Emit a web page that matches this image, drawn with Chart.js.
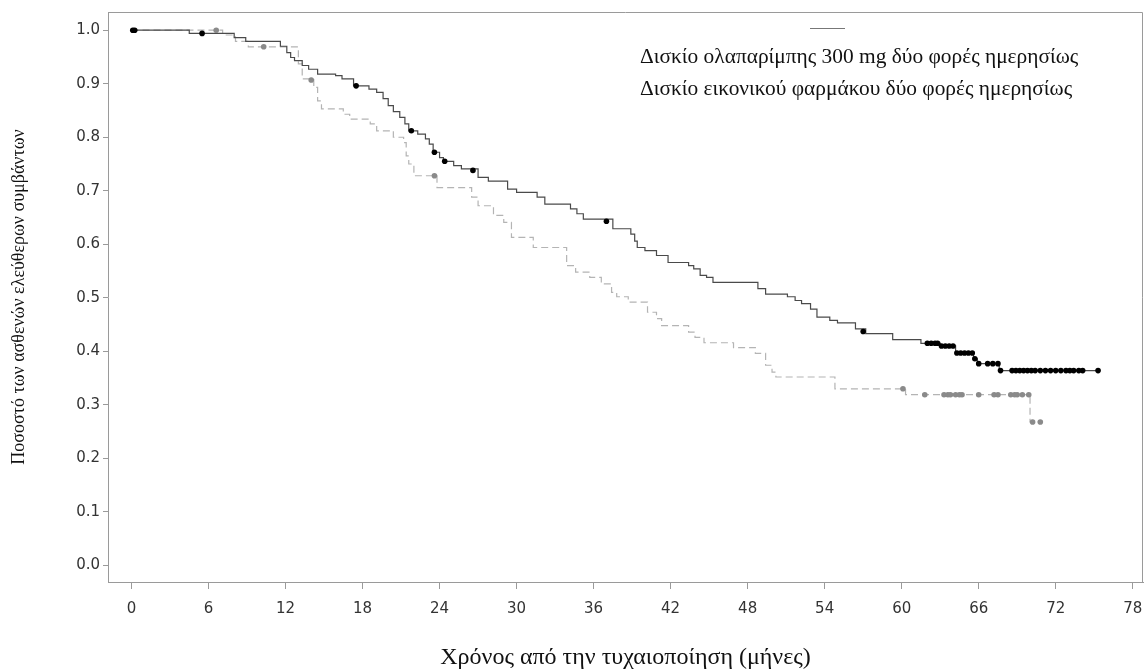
<!DOCTYPE html>
<html>
<head>
<meta charset="utf-8">
<script src="https://cdn.jsdelivr.net/npm/chart.js@4.4.1/dist/chart.umd.min.js"></script>
<style>
  html, body { margin: 0; padding: 0; background: #fff; }
</style>
</head>
<body>
<canvas id="km" width="1144" height="672"></canvas>
<script>
// olaparib arm: step times (months) and survival after each step
const olaTimes = [0, 4.5, 8.0, 8.9, 11.6, 12.1, 12.4, 12.7, 13.3, 13.8, 14.5, 15.9, 16.4, 17.3, 18.5, 19.1, 19.6, 20.0, 20.4, 20.9, 21.3, 21.6,
  22.3, 22.9, 23.2, 23.5, 24.0, 24.3, 25.1, 25.7, 27.0, 27.8, 29.3, 30.0, 31.6, 32.2, 34.2, 34.7, 35.2, 37.5, 38.9, 39.2, 39.4,
  40.0, 40.9, 41.8, 43.4, 43.8, 44.3, 44.8, 45.3, 48.8, 49.4, 51.1, 51.7, 52.2, 52.9, 53.4, 54.4, 55.0, 56.4, 57.2, 59.3, 61.5,
  63.0, 64.2, 65.6, 65.9, 67.6, 75.3];
const olaSurv = [1.0, 0.994, 0.986, 0.979, 0.970, 0.958, 0.949, 0.943, 0.934, 0.927, 0.918, 0.915, 0.909, 0.896, 0.890, 0.884, 0.872, 0.859, 0.848, 0.837, 0.825, 0.812,
  0.806, 0.797, 0.787, 0.772, 0.762, 0.755, 0.747, 0.741, 0.725, 0.718, 0.703, 0.697, 0.688, 0.675, 0.666, 0.657, 0.647, 0.629, 0.619, 0.606, 0.594,
  0.588, 0.579, 0.566, 0.560, 0.554, 0.542, 0.538, 0.529, 0.517, 0.507, 0.502, 0.495, 0.489, 0.479, 0.464, 0.458, 0.453, 0.442, 0.433, 0.422, 0.415,
  0.410, 0.397, 0.386, 0.377, 0.364, 0.364];

// olaparib censored observations
const olaCensT = [0.1, 0.25, 5.5, 17.5, 21.8, 23.6, 24.4, 26.6, 37.0, 57.0, 62.0, 62.3, 62.6, 62.8, 63.1, 63.4, 63.7, 64.0,
  64.3, 64.6, 64.9, 65.2, 65.5, 65.7, 66.0, 66.7, 67.1, 67.5, 67.7, 68.6, 68.9, 69.2, 69.5, 69.8, 70.1, 70.4,
  70.8, 71.2, 71.6, 72.0, 72.4, 72.8, 73.1, 73.4, 73.8, 74.1, 75.3];
const olaCensS = [1.0, 1.0, 0.994, 0.896, 0.812, 0.772, 0.755, 0.738, 0.643, 0.437, 0.415, 0.415, 0.415, 0.415, 0.410, 0.410, 0.410, 0.410,
  0.397, 0.397, 0.397, 0.397, 0.397, 0.386, 0.377, 0.377, 0.377, 0.377, 0.364, 0.364, 0.364, 0.364, 0.364, 0.364, 0.364, 0.364,
  0.364, 0.364, 0.364, 0.364, 0.364, 0.364, 0.364, 0.364, 0.364, 0.364, 0.364];

// placebo arm
const plaTimes = [0, 7.1, 8.1, 9.1, 13.0, 13.3, 14.2, 14.5, 14.8, 16.5, 17.0, 18.6, 19.1, 20.4, 21.2, 21.4, 21.6, 22.0,
  23.8, 26.5, 27.0, 28.2, 29.0, 29.6, 31.3, 33.9, 34.6, 35.7, 36.6, 37.4, 37.8, 38.7, 40.2, 40.9, 41.3, 43.4, 43.9,
  44.6, 46.9, 48.6, 49.4, 49.9, 50.2, 54.8, 60.3, 70.0, 70.8];
const plaSurv = [1.0, 0.991, 0.979, 0.969, 0.937, 0.909, 0.893, 0.868, 0.853, 0.843, 0.834, 0.825, 0.812, 0.800, 0.790, 0.765, 0.750, 0.728,
  0.706, 0.688, 0.672, 0.654, 0.641, 0.613, 0.594, 0.560, 0.548, 0.538, 0.526, 0.510, 0.502, 0.492, 0.473, 0.461, 0.448, 0.436, 0.426,
  0.416, 0.407, 0.396, 0.374, 0.361, 0.352, 0.330, 0.319, 0.268, 0.268];

const plaCensT = [6.6, 10.3, 14.0, 23.6, 60.1, 61.8, 63.3, 63.6, 63.8, 64.2, 64.5, 64.7, 66.0, 67.2, 67.5, 68.5, 68.8, 69.0, 69.4, 69.9, 70.2, 70.8];
const plaCensS = [1.0, 0.969, 0.907, 0.728, 0.330, 0.319, 0.319, 0.319, 0.319, 0.319, 0.319, 0.319, 0.319, 0.319, 0.319, 0.319, 0.319, 0.319, 0.319, 0.319, 0.268, 0.268];

const xTicks = [0, 6, 12, 18, 24, 30, 36, 42, 48, 54, 60, 66, 72, 78];
const yTicks = [0, 0.1, 0.2, 0.3, 0.4, 0.5, 0.6, 0.7, 0.8, 0.9, 1.0];

const legendLabels = ['Δισκίο ολαπαρίμπης 300 mg δύο φορές ημερησίως', 'Δισκίο εικονικού φαρμάκου δύο φορές ημερησίως'];

const pts = (xs, ys) => xs.map((x, i) => ({ x, y: ys[i] }));

// frame + legend, drawn by hand
const decor = {
  id: 'decor',
  afterDraw(chart) {
    const { ctx, chartArea: a } = chart;
    ctx.save();
    ctx.strokeStyle = '#9a9a9a';
    ctx.lineWidth = 1;
    ctx.beginPath();
    ctx.moveTo(a.left + 0.5, a.top + 0.5);
    ctx.lineTo(a.right - 0.5, a.top + 0.5);
    ctx.lineTo(a.right - 0.5, a.bottom);
    ctx.stroke();

    ctx.strokeStyle = '#777';
    ctx.beginPath();
    ctx.moveTo(810, 28.5);
    ctx.lineTo(845, 28.5);
    ctx.stroke();

    ctx.fillStyle = '#111';
    ctx.font = '21.4px "Liberation Serif", serif';
    ctx.textBaseline = 'middle';
    ctx.fillText(legendLabels[0], 640, 57);
    ctx.fillText(legendLabels[1], 640, 89);
    ctx.restore();
  }
};

new Chart(document.getElementById('km'), {
  type: 'line',
  data: {
    datasets: [
      { type: 'scatter', data: pts(olaCensT, olaCensS), pointRadius: 2.8, pointBackgroundColor: '#000', pointBorderWidth: 0 },
      { type: 'scatter', data: pts(plaCensT, plaCensS), pointRadius: 2.8, pointBackgroundColor: '#8a8a8a', pointBorderWidth: 0 },
      { data: pts(olaTimes, olaSurv), stepped: true, borderColor: '#4a4a4a', borderWidth: 1.2, pointRadius: 0, fill: false },
      { data: pts(plaTimes, plaSurv), stepped: true, borderColor: '#b4b4b4', borderWidth: 1.2, borderDash: [7, 4], pointRadius: 0, fill: false }
    ]
  },
  options: {
    responsive: false,
    animation: false,
    layout: { autoPadding: false, padding: { top: 11, right: 1, left: 0, bottom: 0 } },
    plugins: { legend: { display: false }, tooltip: { enabled: false } },
    scales: {
      x: {
        type: 'linear',
        min: -1.83,
        max: 78.8,
        afterBuildTicks: s => { s.ticks = xTicks.map(v => ({ value: v })); },
        afterFit: s => { s.height = 90; s.paddingLeft = 0; s.paddingRight = 0; },
        grid: { drawOnChartArea: false, tickLength: 7, color: '#9a9a9a' },
        border: { color: '#9a9a9a' },
        ticks: { font: { family: 'DejaVu Sans', size: 15 }, color: '#333', padding: 11, maxRotation: 0, autoSkip: false },
        title: {
          display: true,
          text: 'Χρόνος από την τυχαιοποίηση (μήνες)',
          font: { family: 'Liberation Serif', size: 24 },
          color: '#111',
          padding: { top: 0, bottom: 0 }
        }
      },
      y: {
        min: -0.031,
        max: 1.034,
        afterBuildTicks: s => { s.ticks = yTicks.map(v => ({ value: v })); },
        afterFit: s => { s.width = 108; },
        grid: { drawOnChartArea: false, tickLength: 5, color: '#9a9a9a' },
        border: { color: '#9a9a9a' },
        ticks: { font: { family: 'DejaVu Sans', size: 15 }, color: '#333', padding: 3, callback: v => v.toFixed(1) },
        title: {
          display: true,
          text: 'Ποσοστό των ασθενών ελεύθερων συμβάντων',
          font: { family: 'Liberation Serif', size: 18 },
          color: '#111',
          padding: { top: 8, bottom: 0 }
        }
      }
    }
  },
  plugins: [decor]
});
</script>
</body>
</html>
